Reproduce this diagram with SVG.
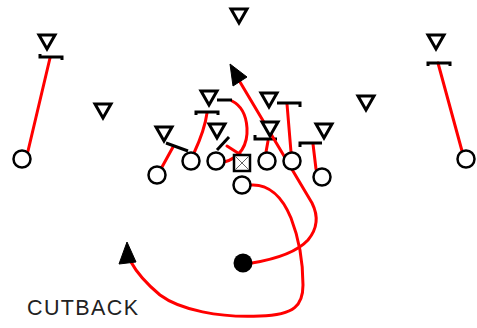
<svg xmlns="http://www.w3.org/2000/svg" xmlns:xlink="http://www.w3.org/1999/xlink" width="477" height="328" viewBox="0 0 477 328">
<style>
.def{fill:#fff;stroke:#000;stroke-width:3;stroke-linejoin:miter}
.off{fill:#fff;stroke:#000;stroke-width:2.5}
.rt{fill:none;stroke:#f00;stroke-width:3;stroke-linecap:round;stroke-linejoin:round}
.blk{fill:none;stroke:#000;stroke-width:3;stroke-linecap:butt}
.head{fill:#000;stroke:#000;stroke-width:1}
.lbl{font-family:"Liberation Sans",Arial,sans-serif;font-size:21.5px;fill:#222}
</style>
<defs>
<path id="tri" d="M-8,-7 H8 L0,7 Z"/>
</defs>
<rect width="477" height="328" fill="#fff"/>
<g id="connectors">
<path class="rt" d="M28,151 L50,58"/>
<path class="blk" d="M40,54 v3 h22 v3"/>
<path class="rt" d="M462,151 L438,63"/>
<path class="blk" d="M428,66 v-3 h22 v3"/>
<path class="rt" d="M162,167 L173,147"/>
<path class="blk" d="M166,143 L188,151"/>
<path class="rt" d="M194,153 C200,140 205,128 207,113"/>
<path class="blk" d="M196,115 v-3 h22 v3"/>
<path class="rt" d="M224,162 C240,158 248,145 247,128 C246,112 240,105 232,101"/>
<path class="blk" d="M217,100 H232"/>
<path class="rt" d="M241,155 L227,146"/>
<path class="blk" d="M217,150 L229,137"/>
<path class="rt" d="M266,152 L268,141"/>
<path class="blk" d="M255,135 v4 h22"/>
<path class="rt" d="M291,152 L287,104"/>
<path class="blk" d="M277,103 H300 v4"/>
<path class="rt" d="M316,169 L313,144"/>
<path class="blk" d="M300,147 v-4 h22"/>
<path class="rt" d="M252,263 C270,260 295,254 308,240 C318,228 318,215 312,203 L240,82"/>
<path class="head" d="M230,64 L247,77 L233,86 Z"/>
<path class="rt" d="M251,185 C268,184 282,196 291,218 C298,236 303,255 303,285 C303,305 295,315 260,316 C220,318 180,310 160,295 C148,285 138,275 131,262"/>
<path class="head" d="M127,242 L136,262 L119,264 Z"/>
</g>
<g id="D1"><use xlink:href="#tri" class="def" x="239" y="16"/></g>
<g id="D2"><use xlink:href="#tri" class="def" x="47" y="42"/></g>
<g id="D3"><use xlink:href="#tri" class="def" x="436" y="42"/></g>
<g id="D4"><use xlink:href="#tri" class="def" x="103" y="111"/></g>
<g id="D5"><use xlink:href="#tri" class="def" x="366" y="103"/></g>
<g id="D6"><use xlink:href="#tri" class="def" x="209" y="98"/></g>
<g id="D7"><use xlink:href="#tri" class="def" x="217" y="131"/></g>
<g id="D8"><use xlink:href="#tri" class="def" x="269" y="100"/></g>
<g id="D9"><use xlink:href="#tri" class="def" x="270" y="129"/></g>
<g id="D10"><use xlink:href="#tri" class="def" x="324" y="131"/></g>
<g id="D11"><use xlink:href="#tri" class="def" x="164" y="134"/></g>
<g id="O1"><circle class="off" cx="22" cy="159" r="8.5"/></g>
<g id="O2"><circle class="off" cx="466" cy="159" r="8.5"/></g>
<g id="O3"><circle class="off" cx="157" cy="175" r="8.5"/></g>
<g id="O4"><circle class="off" cx="191" cy="161" r="8.5"/></g>
<g id="O5"><circle class="off" cx="216" cy="161" r="8.5"/></g>
<g id="C"><rect class="off" x="234" y="155" width="16" height="16"/><path d="M235,156 L249,170 M249,156 L235,170" stroke="#666" stroke-width="1"/></g>
<g id="O6"><circle class="off" cx="267" cy="161" r="8.5"/></g>
<g id="O7"><circle class="off" cx="292" cy="161" r="8.5"/></g>
<g id="O8"><circle class="off" cx="322" cy="177" r="8.5"/></g>
<g id="QB"><circle class="off" cx="242" cy="185" r="8.5"/></g>
<g id="RB"><circle cx="243" cy="263" r="9.5" fill="#000"/></g>
<text class="lbl" x="27" y="315" textLength="111" lengthAdjust="spacing">CUTBACK</text>
</svg>
